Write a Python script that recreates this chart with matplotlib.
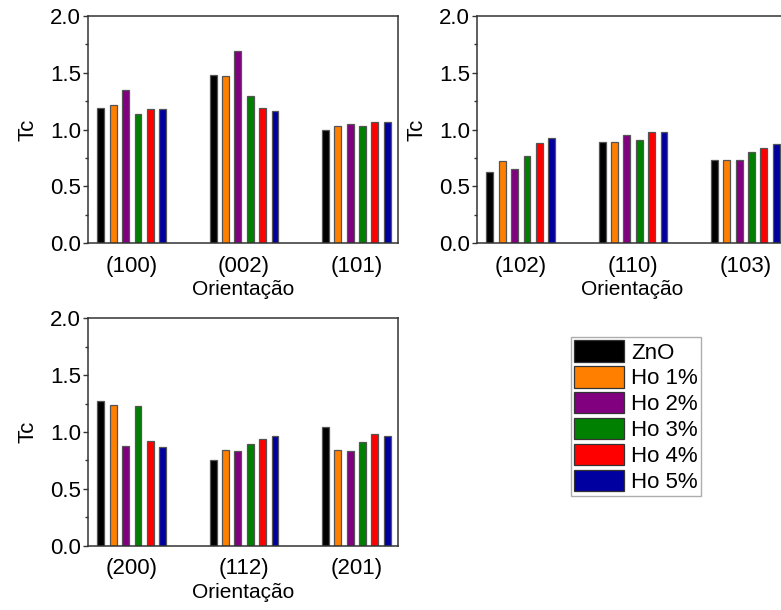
import matplotlib
matplotlib.use("Agg")
import matplotlib.pyplot as plt
from matplotlib.ticker import MultipleLocator
import numpy as np

plt.rcParams['font.family'] = ['Liberation Sans', 'DejaVu Sans']

series = ["ZnO", "Ho 1%", "Ho 2%", "Ho 3%", "Ho 4%", "Ho 5%"]
colors = ["#000000", "#FF8000", "#800080", "#008000", "#FF0000", "#0000A0"]

panel1_labels = ["(100)", "(002)", "(101)"]
panel1_values = [
    [1.19, 1.48, 1.00],   # ZnO
    [1.22, 1.47, 1.03],   # Ho 1%
    [1.35, 1.69, 1.05],   # Ho 2%
    [1.14, 1.30, 1.03],   # Ho 3%
    [1.18, 1.19, 1.07],   # Ho 4%
    [1.18, 1.16, 1.07],   # Ho 5%
]

panel2_labels = ["(102)", "(110)", "(103)"]
panel2_values = [
    [0.63, 0.89, 0.73],
    [0.72, 0.89, 0.73],
    [0.65, 0.95, 0.73],
    [0.77, 0.91, 0.80],
    [0.88, 0.98, 0.84],
    [0.93, 0.98, 0.87],
]

panel3_labels = ["(200)", "(112)", "(201)"]
panel3_values = [
    [1.27, 0.75, 1.04],
    [1.24, 0.84, 0.84],
    [0.88, 0.83, 0.83],
    [1.23, 0.89, 0.91],
    [0.92, 0.94, 0.98],
    [0.87, 0.96, 0.96],
]

W, H = 781, 610
fig = plt.figure(figsize=(W / 100, H / 100), dpi=100)

def make_ax(left, top, width=310, height=227.3):
    return fig.add_axes([left / W, (H - top - height) / H, width / W, height / H])

ax1 = make_ax(88, 16)
ax2 = make_ax(477, 16)
ax3 = make_ax(88, 318.3)

spacing = 0.11
bw = 0.062
handles = None
for ax, labels, values in [(ax1, panel1_labels, panel1_values),
                           (ax2, panel2_labels, panel2_values),
                           (ax3, panel3_labels, panel3_values)]:
    x = np.arange(1, len(labels) + 1)
    hs = []
    for i, (name, col, vals) in enumerate(zip(series, colors, values)):
        b = ax.bar(x + (i - 2.5) * spacing, vals, width=bw, color=col,
                   edgecolor="#555555", linewidth=0.9, label=name)
        hs.append(b)
    if handles is None:
        handles = hs
    ax.set_xlim(0.61, 3.37)
    ax.set_ylim(0, 2.0)
    ax.yaxis.set_major_locator(MultipleLocator(0.5))
    ax.yaxis.set_minor_locator(MultipleLocator(0.25))
    ax.set_yticks([0, 0.5, 1.0, 1.5, 2.0])
    ax.set_yticklabels(["0.0", "0.5", "1.0", "1.5", "2.0"])
    ax.set_xticks(x)
    ax.set_xticklabels(labels)
    ax.tick_params(axis='x', length=0, pad=9, labelsize=16)
    ax.tick_params(axis='y', which='major', direction='out', length=3.6, width=1,
                   labelsize=16, pad=1.5, colors='#333333', labelcolor='black')
    ax.tick_params(axis='y', which='minor', direction='out', length=2.5, width=1,
                   colors='#333333')
    for s in ax.spines.values():
        s.set_color('#333333')
        s.set_linewidth(1.1)
    ax.set_ylabel("Tc", fontsize=16, labelpad=8)
    ax.set_xlabel("Orientação", fontsize=15, labelpad=2.5)

leg = fig.legend(handles=handles, labels=series, loc='upper left',
                 bbox_to_anchor=(571 / W, (H - 337) / H), fontsize=16,
                 frameon=True, fancybox=False, edgecolor='#999999',
                 handlelength=2.25, handleheight=1.1, labelspacing=0.12,
                 handletextpad=0.3, borderpad=0.15, borderaxespad=0)
leg.get_frame().set_linewidth(1.0)
for p in leg.get_patches():
    p.set_edgecolor('#333333')

fig.savefig("out.png", dpi=100)
